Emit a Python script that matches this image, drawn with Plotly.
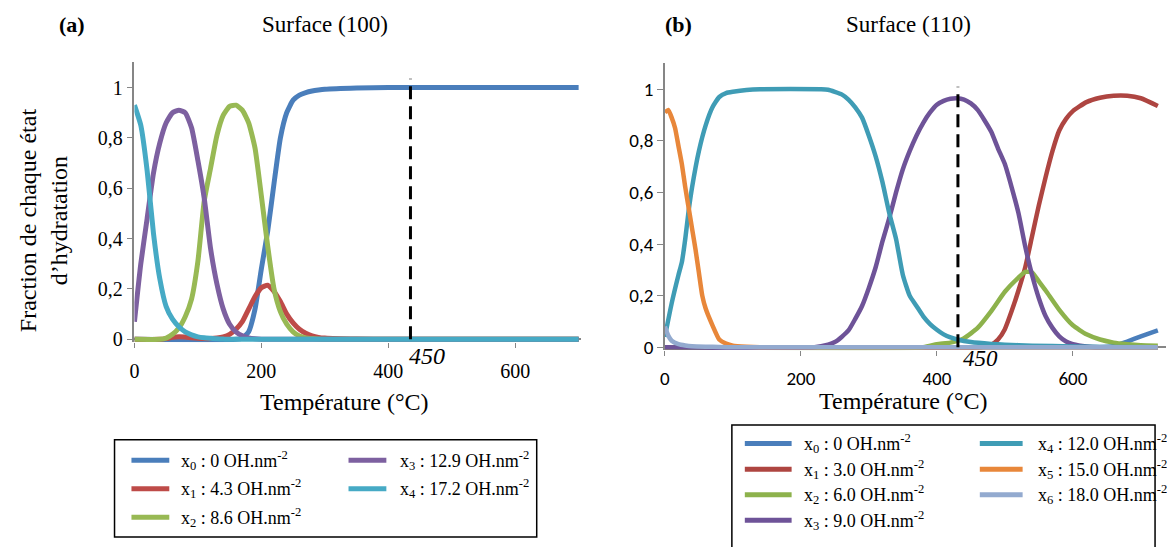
import plotly.graph_objects as go

W, H = 1167, 547

# ---------------- data : panel (a) Surface (100) ----------------
T_a_x0 = [0, 160, 170, 180, 190, 200, 210, 220, 230, 240, 250, 260, 270, 280, 290, 300, 350, 400, 700]
a_x0 = [0, 0, 0.005, 0.03, 0.12, 0.28, 0.43, 0.62, 0.8, 0.9, 0.95, 0.97, 0.98, 0.986, 0.99, 0.993, 0.998, 1.0, 1.0]

T_a_x1 = [0, 40, 50, 60, 70, 80, 90, 100, 110, 120, 130, 140, 150, 160, 170, 180, 190, 200, 210, 220,
          230, 240, 250, 260, 270, 280, 290, 300, 350, 400, 700]
a_x1 = [0, 0, 0.003, 0.008, 0.01, 0.009, 0.006, 0.004, 0.003, 0.003, 0.005, 0.01, 0.02, 0.04, 0.07, 0.12,
        0.17, 0.205, 0.215, 0.19, 0.15, 0.1, 0.065, 0.04, 0.024, 0.014, 0.008, 0.005, 0.001, 0, 0]

T_a_x2 = [0, 40, 50, 60, 70, 80, 90, 100, 110, 120, 130, 140, 150, 160, 170, 180, 190, 200, 210, 220,
          230, 240, 250, 260, 270, 280, 290, 300, 700]
a_x2 = [0, 0, 0.005, 0.02, 0.045, 0.09, 0.16, 0.31, 0.55, 0.68, 0.81, 0.89, 0.925, 0.93, 0.91, 0.86,
        0.76, 0.57, 0.37, 0.2, 0.11, 0.06, 0.03, 0.013, 0.006, 0.003, 0.001, 0, 0]

T_a_x3 = [0, 10, 20, 30, 40, 50, 60, 70, 80, 90, 100, 110, 120, 130, 140, 150, 160, 170, 180, 190, 200, 700]
a_x3 = [0.07, 0.3, 0.48, 0.66, 0.78, 0.86, 0.9, 0.91, 0.9, 0.84, 0.71, 0.56, 0.36, 0.22, 0.12, 0.06,
        0.03, 0.014, 0.006, 0.002, 0, 0]

T_a_x4 = [0, 10, 20, 30, 40, 50, 60, 70, 80, 90, 100, 110, 120, 130, 140, 150, 700]
a_x4 = [0.93, 0.85, 0.67, 0.42, 0.24, 0.13, 0.08, 0.05, 0.03, 0.018, 0.01, 0.006, 0.004, 0.002, 0.001, 0, 0]

# ---------------- data : panel (b) Surface (110) ----------------
T_b_x0 = [0, 640, 660, 680, 700, 725]
b_x0 = [0, 0, 0.004, 0.022, 0.042, 0.065]

T_b_x1 = [0, 460, 470, 480, 490, 500, 510, 520, 530, 540, 550, 560, 570, 580, 590, 600, 620, 640, 660, 680, 700, 725]
b_x1 = [0, 0, 0.003, 0.01, 0.03, 0.07, 0.14, 0.22, 0.31, 0.43, 0.55, 0.66, 0.76, 0.84, 0.885, 0.915,
        0.95, 0.967, 0.975, 0.975, 0.965, 0.935]

T_b_x2 = [0, 380, 400, 420, 440, 460, 480, 500, 520, 530, 540, 550, 560, 580, 600, 620, 640, 660, 680, 700, 725]
b_x2 = [0, 0, 0.012, 0.018, 0.035, 0.075, 0.14, 0.215, 0.27, 0.292, 0.29, 0.255, 0.22, 0.145, 0.085,
        0.05, 0.03, 0.018, 0.012, 0.008, 0.006]

T_b_x3 = [0, 220, 240, 250, 260, 270, 280, 290, 300, 310, 320, 330, 340, 350, 360, 370, 380, 390, 400,
          410, 420, 430, 440, 450, 460, 470, 480, 490, 500, 510, 520, 530, 540, 550, 560, 570, 580, 590,
          600, 620, 640, 725]
b_x3 = [0, 0, 0.01, 0.02, 0.04, 0.065, 0.11, 0.16, 0.23, 0.31, 0.41, 0.5, 0.6, 0.69, 0.76, 0.82, 0.87,
        0.91, 0.94, 0.955, 0.963, 0.965, 0.96, 0.945, 0.92, 0.88, 0.835, 0.77, 0.71, 0.62, 0.52, 0.39,
        0.28, 0.19, 0.12, 0.075, 0.042, 0.022, 0.012, 0.003, 0, 0]

T_b_x4 = [0, 10, 20, 25, 30, 35, 40, 50, 60, 70, 80, 90, 100, 120, 140, 230, 240, 250, 260, 270, 280,
          290, 300, 310, 320, 330, 340, 350, 360, 370, 380, 390, 400, 410, 420, 430, 450, 480, 500, 540,
          600, 650, 725]
b_x4 = [0.04, 0.17, 0.28, 0.33, 0.42, 0.53, 0.62, 0.76, 0.86, 0.93, 0.97, 0.985, 0.99, 0.997, 1.0, 1.0,
        0.998, 0.99, 0.98, 0.96, 0.93, 0.89, 0.82, 0.74, 0.64, 0.52, 0.42, 0.28, 0.2, 0.16, 0.12, 0.09,
        0.068, 0.05, 0.038, 0.03, 0.02, 0.013, 0.01, 0.006, 0.003, 0.001, 0]

T_b_x5 = [0, 5, 10, 15, 20, 25, 30, 35, 40, 45, 50, 55, 60, 70, 80, 90, 100, 120, 140, 725]
b_x5 = [0.91, 0.92, 0.89, 0.85, 0.78, 0.71, 0.62, 0.54, 0.46, 0.38, 0.29, 0.2, 0.15, 0.085, 0.03,
        0.014, 0.006, 0.002, 0, 0]

T_b_x6 = [0, 5, 10, 20, 30, 40, 60, 80, 100, 725]
b_x6 = [0.08, 0.045, 0.025, 0.012, 0.007, 0.004, 0.002, 0.001, 0, 0]

mark_T = 450
mark_pos_a = 435   # position of the dashed marker on the category-like axis (a)
mark_pos_b = 431   # position of the dashed marker on the category-like axis (b)

y_ticks = [0, 0.2, 0.4, 0.6, 0.8, 1]
y_ticktext = ["0", "0,2", "0,4", "0,6", "0,8", "1"]
x_ticks = [0, 200, 400, 600]

labels_a = ["x<sub>0</sub> : 0 OH.nm<sup>-2</sup>", "x<sub>1</sub> : 4.3 OH.nm<sup>-2</sup>",
            "x<sub>2</sub> : 8.6 OH.nm<sup>-2</sup>", "x<sub>3</sub> : 12.9 OH.nm<sup>-2</sup>",
            "x<sub>4</sub> : 17.2 OH.nm<sup>-2</sup>"]
labels_b = ["x<sub>0</sub> : 0 OH.nm<sup>-2</sup>", "x<sub>1</sub> : 3.0 OH.nm<sup>-2</sup>",
            "x<sub>2</sub> : 6.0 OH.nm<sup>-2</sup>", "x<sub>3</sub> : 9.0 OH.nm<sup>-2</sup>",
            "x<sub>4</sub> : 12.0 OH.nm<sup>-2</sup>", "x<sub>5</sub> : 15.0 OH.nm<sup>-2</sup>",
            "x<sub>6</sub> : 18.0 OH.nm<sup>-2</sup>"]

colors_a = ["#4A7EBB", "#BE4B48", "#98B954", "#7D60A0", "#46AAC5"]
colors_b = ["#4A7EBB", "#AE4541", "#8DB24C", "#6E5398", "#3F9CB5", "#E8873A", "#93AACF"]

SERIF = "Liberation Serif, Times New Roman, serif"
SANS = "Carlito, Lato, sans-serif"


def px(x):
    return x / W


def py(y):
    return 1 - y / H


fig = go.Figure()

series_a = [(T_a_x0, a_x0), (T_a_x1, a_x1), (T_a_x2, a_x2), (T_a_x3, a_x3), (T_a_x4, a_x4)]
for (t, v), c, lab in zip(series_a, colors_a, labels_a):
    fig.add_trace(go.Scatter(x=t, y=v, mode="lines", line=dict(color=c, width=5, shape="spline", smoothing=0.5),
                             name=lab, showlegend=False, xaxis="x", yaxis="y"))

series_b = [(T_b_x0, b_x0), (T_b_x1, b_x1), (T_b_x2, b_x2), (T_b_x3, b_x3), (T_b_x4, b_x4),
            (T_b_x5, b_x5), (T_b_x6, b_x6)]
for (t, v), c, lab in zip(series_b, colors_b, labels_b):
    fig.add_trace(go.Scatter(x=t, y=v, mode="lines", line=dict(color=c, width=4.5, shape="spline", smoothing=0.5),
                             name=lab, showlegend=False, xaxis="x2", yaxis="y2"))

# dashed markers at 450 °C
fig.add_trace(go.Scatter(x=[mark_pos_a, mark_pos_a], y=[0, 1.035], mode="lines",
                         line=dict(color="black", width=3, dash="13px,7px"), showlegend=False,
                         xaxis="x", yaxis="y"))
fig.add_trace(go.Scatter(x=[mark_pos_b, mark_pos_b], y=[0, 1.01], mode="lines",
                         line=dict(color="black", width=3, dash="13px,7px"), showlegend=False,
                         xaxis="x2", yaxis="y2"))

axis_grey = "#868686"
common_x = dict(showgrid=False, zeroline=False, showline=False, ticks="outside", ticklen=5,
                tickcolor=axis_grey, tickwidth=1.2, tickvals=x_ticks, ticklabelstandoff=6)
common_y = dict(showgrid=False, showline=True, linecolor=axis_grey, linewidth=1.5, ticks="outside",
                ticklen=6, tickcolor=axis_grey, tickwidth=1.2, tickvals=y_ticks, ticktext=y_ticktext,
                zeroline=True, zerolinecolor=axis_grey, zerolinewidth=1.5, range=[-0.012, 1.1])

fig.update_layout(
    width=W, height=H, margin=dict(l=0, r=0, t=0, b=0),
    paper_bgcolor="white", plot_bgcolor="white", showlegend=False,
    xaxis=dict(domain=[px(130), px(578)], range=[0, 703], anchor="y",
               tickfont=dict(family=SERIF, size=20, color="black"), **common_x),
    yaxis=dict(domain=[py(348.1), py(63.4)], anchor="x",
               tickfont=dict(family=SERIF, size=20, color="black"), **common_y),
    xaxis2=dict(domain=[px(662.7), px(1166)], range=[0, 737], anchor="y2",
                tickfont=dict(family=SANS, size=19, color="black"), **common_x),
    yaxis2=dict(domain=[py(356.2), py(64.5)], anchor="x2",
                tickfont=dict(family=SANS, size=19, color="black"), **common_y),
)

ann = []


def text(x, y, s, size, family=SERIF, xanchor="center", **kw):
    ann.append(dict(x=px(x), y=py(y), xref="paper", yref="paper", text=s, showarrow=False,
                    xanchor=xanchor, yanchor="middle",
                    font=dict(family=family, size=size, color="black"), **kw))


text(67, 25, "<b>(a)</b>", 22)
text(321, 25, "Surface (100)", 23)
text(676, 25, "<b>(b)</b>", 22)
text(907, 25, "Surface (110)", 23)
text(341, 409, "Température (°C)", 24)
text(902, 408, "Température (°C)", 24)
text(38, 224, "Fraction de chaque état<br>d’hydratation", 24, textangle=-90)
text(424, 362, "<i>%d</i>" % mark_T, 24)
text(980, 364, "<i>%d</i>" % mark_T, 23)

shapes = []
# legend boxes
shapes.append(dict(type="rect", xref="paper", yref="paper", x0=px(110), x1=px(534), y0=py(546), y1=py(447),
                   line=dict(color="black", width=1.5)))
shapes.append(dict(type="rect", xref="paper", yref="paper", x0=px(730), x1=px(1155), y0=py(560), y1=py(432),
                   line=dict(color="black", width=1.5)))

leg_a = [(127, 165, 175, 468), (127, 165, 175, 497), (127, 165, 175, 526),
         (345, 383, 395, 468), (345, 383, 395, 497)]
for (x0, x1, xt, yy), c, lab in zip(leg_a, colors_a, labels_a):
    shapes.append(dict(type="line", xref="paper", yref="paper", x0=px(x0), x1=px(x1), y0=py(yy), y1=py(yy),
                       line=dict(color=c, width=5)))
    text(xt, yy, lab, 18, xanchor="left")

leg_b = [(743, 790, 800, 451), (743, 790, 800, 477), (743, 790, 800, 503), (743, 790, 800, 529),
         (979, 1022, 1035, 451), (979, 1022, 1035, 477), (979, 1022, 1035, 503)]
for (x0, x1, xt, yy), c, lab in zip(leg_b, colors_b, labels_b):
    shapes.append(dict(type="line", xref="paper", yref="paper", x0=px(x0), x1=px(x1), y0=py(yy), y1=py(yy),
                       line=dict(color=c, width=5)))
    text(xt, yy, lab, 18, xanchor="left")

fig.update_layout(annotations=ann, shapes=shapes)
fig.write_html("out.html", config={"displayModeBar": False},
               post_script="document.body.style.margin='0px';document.body.style.overflow='hidden';")
